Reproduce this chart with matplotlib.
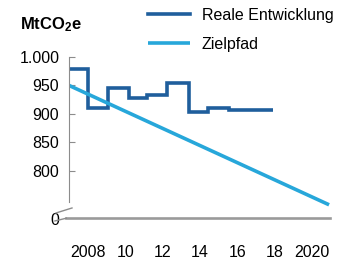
import matplotlib
matplotlib.use('Agg')
import matplotlib.pyplot as plt

plt.rcParams['font.family'] = ['Liberation Sans', 'DejaVu Sans']
plt.rcParams['mathtext.fontset'] = 'custom'
plt.rcParams['mathtext.bf'] = 'Liberation Sans:bold'
plt.rcParams['mathtext.rm'] = 'Liberation Sans'

# Reale Entwicklung (step line): edges in years, values in MtCO2e
real_edges = [2007.0, 2008.0, 2009.1, 2010.2, 2011.15, 2012.25, 2013.4, 2014.45, 2015.55, 2017.9]
real_values = [979, 911, 946, 927, 933, 954, 903, 910, 906]

# Zielpfad (straight target path)
target_years = [2007.0, 2020.9]
target_values = [950, 740]

x_ticks = [2008, 2010, 2012, 2014, 2016, 2018, 2020]
x_labels = ['2008', '10', '12', '14', '16', '18', '2020']
y_ticks = [715, 800, 850, 900, 950, 1000]
y_labels = ['0', '800', '850', '900', '950', '1.000']

dark = '#1f5e9c'
light = '#27a7da'
grey = '#8c8c8c'

fig = plt.figure(figsize=(3.41, 2.6), dpi=100)
ax = fig.add_axes([69 / 341, 41 / 260, 261 / 341, 162 / 260])

ax.stairs(real_values, real_edges, baseline=None, color=dark, lw=2.6,
          label='Reale Entwicklung')
ax.plot(target_years, target_values, color=light, lw=2.6, label='Zielpfad',
        solid_capstyle='butt')

ax.set_xlim(2007.0, 2020.95)
ax.set_ylim(715, 1000)

for s in ['top', 'right', 'bottom']:
    ax.spines[s].set_visible(False)
ax.spines['left'].set_color(grey)
ax.spines['left'].set_bounds(745, 1000)

# x axis line
ax.plot([2006.85, 2020.95], [716.5, 716.5], color='#9a9a9a', lw=1.9,
        clip_on=False, zorder=1)

ax.set_yticks(y_ticks)
ax.set_yticklabels(y_labels)
ax.set_xticks(x_ticks)
ax.set_xticklabels(x_labels)
ax.tick_params(axis='y', direction='in', length=4, color=grey, labelsize=11.5, pad=7)
ax.tick_params(axis='x', length=0, labelsize=11.5, pad=19)
ax.yaxis.get_major_ticks()[0].tick1line.set_visible(False)

# axis break marks
ax.plot([-0.05, 0.0115], [0.037, 0.068], transform=ax.transAxes, color=grey,
        lw=1, clip_on=False)
ax.plot([-0.054, -0.01], [-0.012, 0.005], transform=ax.transAxes, color=grey,
        lw=1, clip_on=False)

fig.text(20 / 341, 1 - 25 / 260, r'$\mathbf{MtCO_2e}$', fontsize=12,
         va='center', ha='left')

fig.legend(loc='upper left', bbox_to_anchor=(148 / 341, 1 - 8 / 260),
           frameon=False, fontsize=11.5, handlelength=2.6, handletextpad=0.75,
           labelspacing=0.85, borderaxespad=0, borderpad=0)

fig.savefig('out.png', dpi=100)
